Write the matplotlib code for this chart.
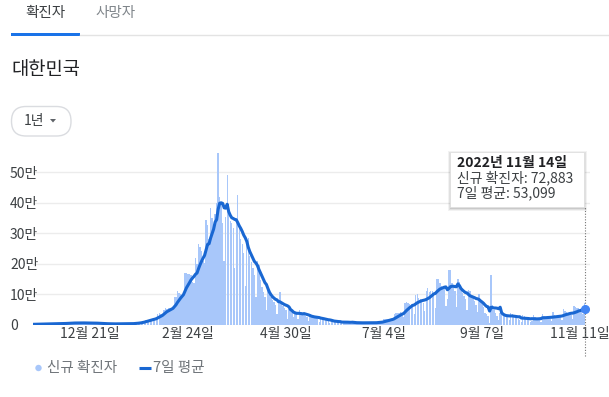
import numpy as np
import pandas as pd
import matplotlib
matplotlib.use('Agg')
import matplotlib.pyplot as plt
from matplotlib.patches import FancyBboxPatch, Rectangle, Circle, Polygon

plt.rcParams['font.family'] = ['Noto Sans CJK KR', 'DejaVu Sans']

# ---------------- data (daily new cases, thousands) ----------------
start_date = '2021-11-14'
prior_days = [2.4, 2.5, 2.4, 2.2, 2.4, 2.4]  # the six days before start_date (for the 7-day window)
daily_cases = [
    2.0, 3.2, 3.3, 3.0, 3.2, 3.1, 2.8,
    2.7, 4.1, 4.1, 3.9, 4.1, 3.9, 3.9,
    3.3, 5.1, 5.3, 5.4, 4.9, 5.1, 4.3,
    5.0, 7.2, 7.1, 7.0, 7.0, 6.7, 5.8,
    5.6, 7.9, 7.6, 7.4, 7.3, 6.2, 5.3,
    5.2, 7.5, 7.5, 6.9, 6.2, 5.8, 4.2,
    3.9, 5.4, 5.0, 4.9, 4.4, 3.8, 3.1,
    3.0, 4.4, 4.1, 4.4, 3.7, 3.5, 3.4,
    3.0, 4.4, 4.2, 4.5, 4.2, 4.2, 3.9,
    3.1, 4.1, 5.8, 6.6, 6.8, 7.0, 7.6,
    7.5, 8.6, 13.0, 14.5, 16.1, 17.5, 17.5,
    18.3, 20.3, 20.9, 22.9, 27.4, 36.4, 38.7,
    35.3, 36.7, 49.6, 54.1, 53.9, 54.9, 56.4,
    54.6, 57.2, 90.4, 93.1, 109.8, 104.8, 102.2,
    95.4, 99.6, 171.5, 170.0, 166.2, 165.9, 163.6,
    139.6, 139.0, 219.2, 198.8, 266.9, 254.3, 243.6,
    210.7, 202.7, 342.4, 327.5, 283.0, 383.7, 350.2,
    309.8, 362.3, 400.7, 565.0, 420.0, 395.0, 334.7,
    209.2, 354.0, 490.9, 395.6, 339.5, 335.6, 318.1,
    187.2, 347.6, 424.6, 320.7, 280.3, 264.2, 234.3,
    127.2, 266.1, 286.3, 224.8, 205.3, 185.6, 164.5,
    90.9, 210.8, 195.4, 148.4, 125.8, 107.9, 93.0,
    47.7, 118.5, 111.3, 90.9, 81.1, 75.4, 64.7,
    34.4, 76.8, 108.0, 68.5, 61.0, 55.4, 50.0,
    20.1, 51.1, 49.1, 42.3, 26.7, 40.1, 38.5,
    20.6, 49.9, 43.9, 35.9, 32.5, 29.6, 25.4,
    13.3, 35.1, 29.9, 26.7, 25.1, 24.1, 19.3,
    10.0, 24.0, 23.9, 18.8, 17.2, 14.4, 12.7,
    6.1, 16.6, 13.4, 9.9, 12.5, 10.0, 9.8,
    5.0, 6.2, 13.4, 12.2, 9.3, 8.4, 7.4,
    3.8, 9.4, 9.3, 7.6, 7.2, 7.2, 6.1,
    3.5, 9.3, 9.6, 7.5, 7.2, 6.8, 6.2,
    3.4, 9.9, 9.6, 9.5, 10.7, 10.7, 9.5,
    6.3, 18.1, 19.4, 18.5, 19.3, 20.4, 20.2,
    12.7, 37.4, 40.3, 39.2, 38.9, 41.3, 40.3,
    26.3, 73.6, 76.4, 71.2, 68.6, 68.6, 65.4,
    35.9, 99.3, 100.3, 88.4, 85.3, 81.9, 73.6,
    44.7, 111.8, 119.9, 107.9, 112.9, 110.7, 105.5,
    55.3, 149.9, 151.8, 137.2, 128.7, 124.6, 119.6,
    62.1, 84.1, 180.8, 178.6, 138.8, 125.4, 110.0,
    59.0, 150.8, 139.3, 113.4, 103.2, 94.1, 84.1,
    50.0, 115.0, 110.0, 98.0, 90.0, 80.0, 65.0,
    42.0, 100.0, 78.0, 72.0, 60.0, 40.0, 35.0,
    30.0, 5.0, 165.0, 65.0, 50.0, 40.0, 30.0,
    18.0, 40.0, 36.0, 33.0, 31.0, 28.0, 25.0,
    15.0, 40.0, 36.0, 28.0, 26.0, 24.0, 19.0,
    16.0, 11.0, 34.0, 28.0, 22.0, 21.0, 16.0,
    10.0, 14.0, 32.0, 25.0, 23.0, 21.0, 19.0,
    10.0, 36.0, 31.0, 27.0, 25.0, 24.0, 21.0,
    13.0, 41.0, 34.0, 31.0, 30.0, 29.0, 25.0,
    16.0, 54.0, 46.0, 42.0, 38.0, 40.0, 33.0,
    19.0, 62.0, 58.0, 55.0, 55.0, 49.0, 45.0,
    36.0, 72.883,
]
tick_dates = ['2021-12-21', '2022-02-24', '2022-04-30', '2022-07-04', '2022-09-07', '2022-11-11']
tick_labels = ['12월 21일', '2월 24일', '4월 30일', '7월 4일', '9월 7일', '11월 11일']
y_ticks = [0, 100, 200, 300, 400, 500]
y_labels = ['0', '10만', '20만', '30만', '40만', '50만']

tooltip_date = '2022년 11월 14일'
tooltip_new = '신규 확진자: 72,883'
tooltip_avg = '7일 평균: 53,099'

# ---------------- derived ----------------
dates = pd.date_range(start_date, periods=len(daily_cases), freq='D')
avg7 = pd.Series(prior_days + daily_cases).rolling(7).mean().iloc[len(prior_days):].to_numpy()

W, H = 609, 397
fig = plt.figure(figsize=(W / 100, H / 100), dpi=100)
fig.patch.set_facecolor('white')

ax_l, ax_r, ax_t, ax_b = 33.4, 589.9, 151, 325
ax = fig.add_axes([ax_l / W, (H - ax_b) / H, (ax_r - ax_l) / W, (ax_b - ax_t) / H])

ax.bar(dates, daily_cases, width=0.9, color='#a8c7fa', linewidth=0, zorder=2)
ax.plot(dates, avg7, color='#1967d2', lw=2.2, solid_joinstyle='round', zorder=3)
ax.plot([dates[-1]], [avg7[-1]], 'o', ms=5.5, color='#4285f4', zorder=5, clip_on=False)
ax.vlines(dates[-1], -100, 387, colors='#757575', linestyles=(0, (1, 1.5)), lw=0.8,
          zorder=4, clip_on=False)

ax.set_xlim(dates[0] - pd.Timedelta(hours=12), dates[0] + pd.Timedelta(hours=12) + pd.Timedelta(days=368))
ax.set_ylim(0, 570)

ax.set_xticks(pd.to_datetime(tick_dates))
ax.set_xticklabels(tick_labels, fontsize=10, color='#3c4043')
ax.set_yticks(y_ticks)
ax.set_yticklabels(y_labels, fontsize=10, color='#3c4043')
for lab in ax.get_yticklabels():
    lab.set_horizontalalignment('left')
ax.tick_params(axis='y', length=0, pad=16.8)
ax.tick_params(axis='x', length=0, pad=1.5)
ax.yaxis.grid(True, color='#ececec', lw=1)
ax.set_axisbelow(True)
for s in ax.spines.values():
    s.set_visible(False)

# ---------------- overlay in pixel coordinates ----------------
ov = fig.add_axes([0, 0, 1, 1], zorder=10)
ov.set_xlim(0, W)
ov.set_ylim(H, 0)
ov.axis('off')
ov.patch.set_alpha(0)

# tabs
ov.text(25, 13, '확진자', fontsize=10.5, color='#3c4043', va='center', ha='left')
ov.text(95, 13, '사망자', fontsize=10.5, color='#80868b', va='center', ha='left')
ov.add_patch(Rectangle((11, 32.5), 69, 3, color='#1a73e8', lw=0))
ov.plot([80, 609], [34.5, 34.5], color='#e3e3e3', lw=1)

# region title
ov.text(11, 69.5, '대한민국', fontsize=13.5, color='#202124', va='center', ha='left')

# 1년 button
ov.add_patch(FancyBboxPatch((11.5, 106.5), 59.5, 29.5,
                            boxstyle='round,pad=0,rounding_size=14.5',
                            fc='white', ec='#dadce0', lw=1))
ov.text(24, 121, '1년', fontsize=10, color='#3c4043', va='center', ha='left')
ov.add_patch(Polygon([[50, 119], [56, 119], [53, 122.5]], closed=True, color='#5f6368', lw=0))

# tooltip with soft shadow
for i, a in enumerate([0.05, 0.07, 0.10]):
    d = 3 - i
    ov.add_patch(Rectangle((450 - d + 1, 152 - d + 2), 134 + 2 * d - 1, 55 + 2 * d - 1,
                           fc='#000000', alpha=a, lw=0))
ov.add_patch(Rectangle((450, 152), 134, 55, fc='white', ec='#e0e0e0', lw=0.6))
ov.text(457, 162.5, tooltip_date, fontsize=10, fontweight='bold', color='#202124',
        va='center', ha='left')
ov.text(457, 177.5, tooltip_new, fontsize=10, color='#3c4043', va='center', ha='left')
ov.text(457, 192.5, tooltip_avg, fontsize=10, color='#3c4043', va='center', ha='left')

# legend
ov.add_patch(Circle((38.5, 368), 3.2, color='#a8c7fa', lw=0))
ov.text(47, 368, '신규 확진자', fontsize=10.5, color='#70757a', va='center', ha='left')
ov.plot([139, 150.5], [368, 368], color='#1967d2', lw=2.2, solid_capstyle='butt')
ov.text(153, 368, '7일 평균', fontsize=10.5, color='#70757a', va='center', ha='left')

fig.savefig('out.png', dpi=100, facecolor='white')
